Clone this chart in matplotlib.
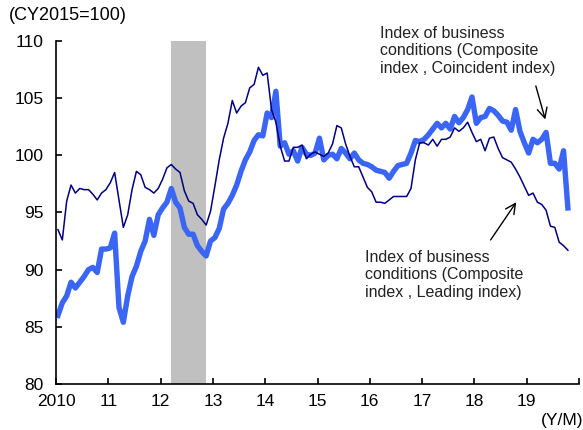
import matplotlib
matplotlib.use("Agg")
import matplotlib.pyplot as plt

plt.rcParams['font.family'] = ['Liberation Sans', 'DejaVu Sans']

# Monthly data, 2010/01 .. 2019/10 (CY2015=100)
coincident = [
    86.0, 87.1, 87.7, 88.9, 88.4, 88.9, 89.4, 90.0, 90.2, 89.75, 91.8, 91.8,
    91.9, 93.2, 86.7, 85.4, 87.7, 89.4, 90.3, 91.6, 92.5, 94.4, 93.0, 94.8,
    95.4, 95.9, 97.1, 95.9, 95.4, 93.7, 93.1, 93.1, 92.1, 91.6, 91.2, 92.5,
    92.8, 93.6, 95.3, 95.8, 96.5, 97.4, 98.6, 99.6, 100.3, 101.3, 101.8, 101.7,
    103.7, 103.3, 105.6, 100.8, 101.1, 100.1, 100.4, 99.5, 100.7, 100.1, 100.0, 100.2,
    101.5, 99.6, 100.0, 100.1, 99.7, 100.6, 100.2, 99.7, 100.2, 99.6, 99.3, 99.2,
    99.0, 98.7, 98.6, 98.5, 98.0, 98.6, 99.1, 99.2, 99.3, 100.2, 101.3, 101.2,
    101.4, 101.8, 102.3, 102.8, 102.4, 102.8, 102.3, 103.4, 102.85, 103.3, 104.0, 105.1,
    102.8, 103.3, 103.4, 104.1, 103.9, 103.5, 103.0, 102.9, 102.2, 104.0, 102.1, 101.1,
    100.2, 101.4, 101.1, 101.4, 102.0, 99.3, 99.3, 98.8, 100.4, 95.4,
]
leading = [
    93.5, 92.6, 96.0, 97.4, 96.7, 97.1, 97.0, 97.0, 96.6, 96.1, 96.7, 97.0,
    97.6, 98.5, 96.1, 93.7, 94.8, 97.0, 98.6, 98.3, 97.2, 97.0, 96.7, 97.1,
    97.9, 98.9, 99.2, 98.8, 98.5, 96.9, 96.0, 95.8, 94.8, 94.4, 93.9, 95.1,
    97.3, 99.6, 101.5, 102.8, 104.8, 103.7, 104.3, 104.6, 105.9, 106.2, 107.7, 107.0,
    107.2, 104.0, 102.9, 100.8, 99.5, 99.5, 100.7, 100.7, 100.9, 99.7, 100.1, 100.3,
    100.1, 99.9, 100.2, 101.0, 102.6, 102.4, 101.0, 99.9, 99.0, 99.0, 98.1, 97.2,
    96.8, 95.9, 95.9, 95.8, 96.1, 96.4, 96.4, 96.4, 96.4, 97.1, 99.6, 101.1,
    101.1, 100.9, 101.4, 100.8, 101.4, 101.4, 101.6, 102.4, 102.1, 102.4, 102.9, 102.0,
    101.2, 101.4, 100.4, 101.5, 101.6, 100.6, 99.8, 99.6, 99.4, 98.8, 98.1, 97.3,
    96.5, 96.7, 95.9, 95.7, 95.2, 93.8, 93.7, 92.4, 92.1, 91.7,
]
start_year = 2010
recession_months = (26, 34)  # 2012/03 (peak) .. 2012/11 (trough), months from 2010/01
year_ticks = list(range(2010, 2021))
year_labels = ['2010', '11', '12', '13', '14', '15', '16', '17', '18', '19', '']
y_ticks = [80, 85, 90, 95, 100, 105, 110]


def xpos(i):
    return start_year + (i + 0.45) / 12.0


x = [xpos(i) for i in range(len(coincident))]

fig = plt.figure(figsize=(5.83, 4.30), dpi=100)
ax = fig.add_axes([56 / 583, 1 - 384 / 430, (579 - 56) / 583, (384 - 41) / 430])

ax.axvspan(xpos(recession_months[0]), xpos(recession_months[1]), color='#C0C0C0', lw=0, zorder=1)
ax.plot(x, coincident, color='#3B66F5', lw=3.9, solid_joinstyle='round', zorder=2)
ax.plot(x, leading, color='#000080', lw=1.1, zorder=3)

ax.set_xlim(2010, 2020)
ax.set_ylim(80, 110)
ax.set_xticks(year_ticks)
ax.set_xticklabels(year_labels)
ax.set_yticks(y_ticks)
ax.set_yticklabels([str(v) for v in y_ticks])
for s in ['top', 'right']:
    ax.spines[s].set_visible(False)
for s in ['left', 'bottom']:
    ax.spines[s].set_linewidth(1.2)
ax.tick_params(axis='both', direction='in', length=4, width=1.2, labelsize=12.5, colors='black')
ax.tick_params(axis='x', pad=7)
ax.tick_params(axis='y', pad=9)

fig.text(9 / 583, 1 - 15 / 430, '(CY2015=100)', fontsize=13, va='center', ha='left')
fig.text(583 / 583, 1 - 420 / 430, '(Y/M)', fontsize=12.5, va='center', ha='right')

fig.text(380 / 583, 1 - 51 / 430, 'Index of business\nconditions (Composite\nindex , Coincident index)',
         fontsize=11.5, va='center', ha='left', color='#222222', linespacing=1.2)
fig.text(365 / 583, 1 - 275 / 430, 'Index of business\nconditions (Composite\nindex , Leading index)',
         fontsize=11.5, va='center', ha='left', color='#222222', linespacing=1.2)

ax.annotate('', xy=(2019.37, 102.9), xytext=(2019.16, 106.3), annotation_clip=False,
            arrowprops=dict(arrowstyle='->', color='black', lw=1.0, mutation_scale=18))
ax.annotate('', xy=(2018.83, 96.1), xytext=(2018.28, 92.4), annotation_clip=False,
            arrowprops=dict(arrowstyle='->', color='black', lw=1.0, mutation_scale=18))

fig.savefig('out.png', dpi=100)
